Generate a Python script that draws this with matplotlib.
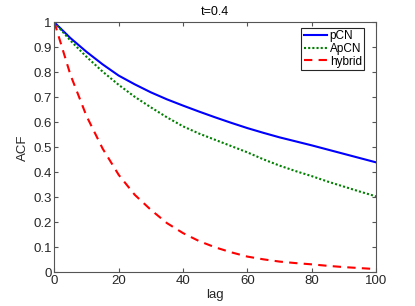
import matplotlib
matplotlib.use('Agg')
import matplotlib.pyplot as plt
from matplotlib.ticker import FixedLocator

plt.rcParams['font.family'] = ['Liberation Sans', 'DejaVu Sans']

lag = [0, 5, 10, 15, 20, 25, 30, 35, 40, 45, 50,
       55, 60, 65, 70, 75, 80, 85, 90, 95, 100]
acf_pcn = [1.0, 0.937, 0.882, 0.832, 0.787, 0.752, 0.72, 0.692, 0.667, 0.643, 0.62,
           0.598, 0.577, 0.558, 0.54, 0.524, 0.508, 0.491, 0.474, 0.457, 0.44]
acf_apcn = [1.0, 0.927, 0.862, 0.803, 0.75, 0.702, 0.66, 0.62, 0.584, 0.555, 0.53,
            0.505, 0.48, 0.452, 0.427, 0.405, 0.385, 0.363, 0.343, 0.323, 0.304]
acf_hybrid = [1.0, 0.79, 0.625, 0.495, 0.39, 0.31, 0.25, 0.197, 0.157, 0.125, 0.1,
              0.08, 0.063, 0.052, 0.043, 0.037, 0.032, 0.026, 0.021, 0.017, 0.013]

xticks = [0, 20, 40, 60, 80, 100]
yticks = [0, 0.1, 0.2, 0.3, 0.4, 0.5, 0.6, 0.7, 0.8, 0.9, 1]
ytick_labels = ['0', '0.1', '0.2', '0.3', '0.4', '0.5', '0.6', '0.7', '0.8', '0.9', '1']

fig = plt.figure(figsize=(4.15, 3.06), dpi=100)
ax = fig.add_axes([0.131, 0.110, 0.775, 0.817])

ax.plot(lag, acf_pcn, color='#0000ff', lw=1.5, label='pCN')
ax.plot(lag, acf_apcn, color='#008000', lw=1.5, linestyle=(0, (1, 1)), label='ApCN')
ax.plot(lag, acf_hybrid, color='#ff0000', lw=1.5, linestyle=(0, (4, 3)), label='hybrid')

ax.set_xlim(0, 100)
ax.set_ylim(0, 1)
ax.xaxis.set_major_locator(FixedLocator(xticks))
ax.set_yticks(yticks)
ax.set_yticklabels(ytick_labels)

axis_gray = '#262626'
for s in ax.spines.values():
    s.set_color('#555555')
    s.set_linewidth(0.8)
ax.tick_params(direction='in', top=True, right=True, length=3, width=0.8,
               color='#555555', labelcolor=axis_gray, labelsize=9.5, pad=2)

ax.set_title('t=0.4', fontsize=9, color='#000000', pad=5)
ax.set_xlabel('lag', fontsize=9.5, color=axis_gray, labelpad=1)
ax.set_ylabel('ACF', fontsize=9.5, color=axis_gray, labelpad=3)

leg = ax.legend(loc='upper right', bbox_to_anchor=(0.963, 0.977), fontsize=8.5,
                handlelength=2.0, handletextpad=0.2, borderpad=0.2, labelspacing=0.05,
                borderaxespad=0, fancybox=False, framealpha=1)
leg.get_frame().set_edgecolor('#262626')
leg.get_frame().set_linewidth(0.8)

fig.savefig('out.png', dpi=100)
